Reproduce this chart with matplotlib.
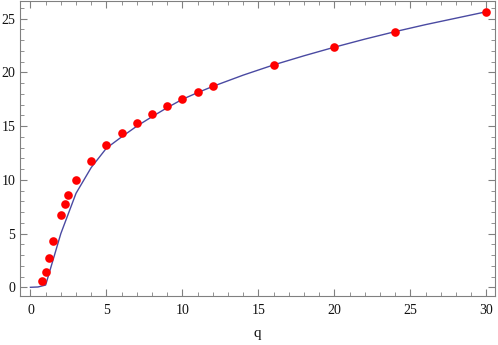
import matplotlib
matplotlib.use('Agg')
import matplotlib.pyplot as plt
from matplotlib.ticker import MultipleLocator

plt.rcParams['font.family'] = ['Liberation Serif', 'DejaVu Serif']

# measured points
q_pts = [0.75, 1, 1.25, 1.5, 2, 2.25, 2.5, 3, 4, 5, 6, 7, 8, 9, 10, 11, 12, 16, 20, 24, 30]
y_pts = [0.6, 1.42, 2.75, 4.27, 6.75, 7.74, 8.58, 10.0, 11.8, 13.22, 14.34, 15.3, 16.13,
         16.88, 17.53, 18.15, 18.71, 20.72, 22.36, 23.79, 25.65]

# model curve
q_line = [0, 0.5, 1, 2, 3, 4, 5, 6, 7, 8, 9, 10, 11, 12, 14, 16, 18, 20, 22, 24, 26, 28, 30]
y_line = [0, 0.03, 0.21, 5.0, 8.75, 11.15, 12.95, 14.0, 15.0, 15.88, 16.72, 17.5, 18.12,
          18.7, 19.75, 20.7, 21.55, 22.35, 23.1, 23.8, 24.45, 25.05, 25.65]

fig = plt.figure(figsize=(4.98, 3.45), dpi=100)
ax = fig.add_axes([19.5 / 498, 1 - 296 / 345, (495 - 19.5) / 498, (296 - 1) / 345])

ax.plot(q_line, y_line, color='#4a4aa2', lw=1.0, zorder=2)
ax.plot(q_pts, y_pts, 'o', color='#ff0000', ms=6.2, mec='none', zorder=3)

ax.set_xlim(-0.72, 30.57)
ax.set_ylim(-0.81, 26.65)
ax.xaxis.set_major_locator(MultipleLocator(5))
ax.xaxis.set_minor_locator(MultipleLocator(1))
ax.yaxis.set_major_locator(MultipleLocator(5))
ax.yaxis.set_minor_locator(MultipleLocator(1))
ax.tick_params(which='both', direction='in', top=True, right=True, color='#808080',
               labelsize=10, labelcolor='#111111')
ax.tick_params(which='major', length=5, width=0.8)
ax.tick_params(which='minor', length=3, width=0.6)
ax.tick_params(axis='x', which='major', pad=6)
ax.tick_params(axis='y', which='major', pad=3)
for s in ax.spines.values():
    s.set_color('#808080')
    s.set_linewidth(0.8)

ax.set_xlabel('q', fontsize=11, labelpad=7, color='#111111')

fig.savefig('out.png', dpi=100)
